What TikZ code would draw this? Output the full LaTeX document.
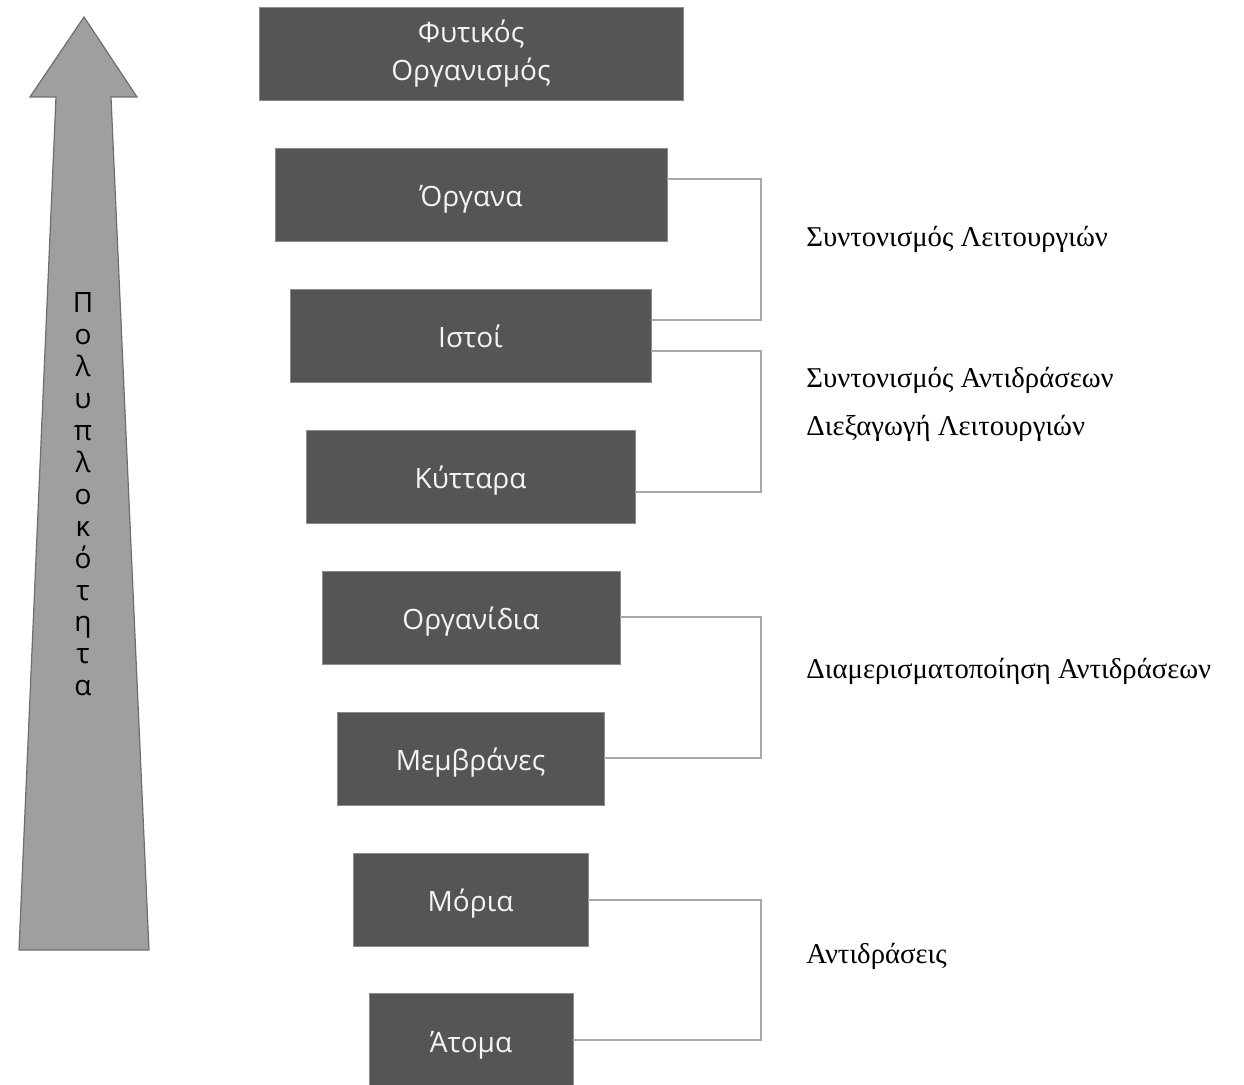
\documentclass[tikz,border=0pt]{standalone}
\usepackage{fontspec}
\setmainfont{Liberation Serif}
\newfontfamily\boxfont{Open Sans}
\definecolor{boxgray}{HTML}{555555}
\definecolor{boxedge}{HTML}{8C8C8C}
\definecolor{boxtext}{HTML}{F4F4F4}
\definecolor{arrowfill}{HTML}{9F9F9F}
\definecolor{arrowedge}{HTML}{6E6E6E}
\definecolor{linkgray}{HTML}{A8A8A8}

\begin{document}
\begin{tikzpicture}[x=0.5pt, y=-0.5pt,
    B/.style={fill=boxgray, draw=boxedge, line width=0.4pt,
        text=boxtext, font=\boxfont\fontsize{14}{19}\selectfont,
        minimum height=46.5pt, inner sep=0pt, align=center},
    B1/.style={B, text height=12pt, text depth=0pt},
    V/.style={font=\boxfont\fontsize{14}{16}\selectfont,
        anchor=base, inner sep=0pt},
    L/.style={font=\fontsize{14.35}{16}\selectfont,
        anchor=base west, inner sep=0pt},
    link/.style={draw=linkgray, line width=1pt}]
    \useasboundingbox (0,0) rectangle (1244,1085);

    % arrow
    \draw[fill=arrowfill, draw=arrowedge, line width=0.6pt]
        (84,17) -- (137,97) -- (111,97) -- (149,950)
        -- (19,950) -- (56,97) -- (30,97) -- cycle;
    \foreach \c [count=\i from 0] in {Π,ο,λ,υ,π,λ,ο,κ,ό,τ,η,τ,α}
        \node[V] (v\i) at (83,313+31.9*\i) {\c};

    % levels
    \node[B, minimum width=212pt] (plant) at (471,54) {Φυτικός\\Οργανισμός};
    \node[B1, minimum width=196pt] (organa) at (471,195) {Όργανα};
    \node[B1, minimum width=180.5pt] (istoi) at (470.5,335.5) {Ιστοί};
    \node[B1, minimum width=164.5pt] (kyttara) at (470.5,476.5) {Κύτταρα};
    \node[B1, minimum width=149pt] (organidia) at (471,617.5) {Οργανίδια};
    \node[B1, minimum width=133.5pt] (membranes) at (470.5,758.5) {Μεμβράνες};
    \node[B1, minimum width=117.5pt] (moria) at (470.5,899.5) {Μόρια};
    \node[B1, minimum width=102pt] (atoma) at (471,1040) {Άτομα};

    % brackets
    \coordinate (col) at (761,0);
    \coordinate (o1) at ([yshift=7.75pt]organa.east);
    \coordinate (i1) at ([yshift=7.75pt]istoi.east);
    \coordinate (i2) at ([yshift=-7.75pt]istoi.east);
    \coordinate (k1) at ([yshift=-7.75pt]kyttara.east);
    \draw[link] (o1) -- (o1 -| col) |- (i1);
    \draw[link] (i2) -- (i2 -| col) |- (k1);
    \draw[link] (organidia.east) -- (organidia.east -| col) |- (membranes.east);
    \draw[link] (moria.east) -- (moria.east -| col) |- (atoma.east);

    % labels
    \node[L] (f1) at (806,247) {Συντονισμός Λειτουργιών};
    \node[L] (f2) at (806,388) {Συντονισμός Αντιδράσεων};
    \node[L] (f3) at (806,436) {Διεξαγωγή Λειτουργιών};
    \node[L] (f4) at (806,679) {Διαμερισματοποίηση Αντιδράσεων};
    \node[L] (f5) at (806,964) {Αντιδράσεις};
\end{tikzpicture}
\end{document}
